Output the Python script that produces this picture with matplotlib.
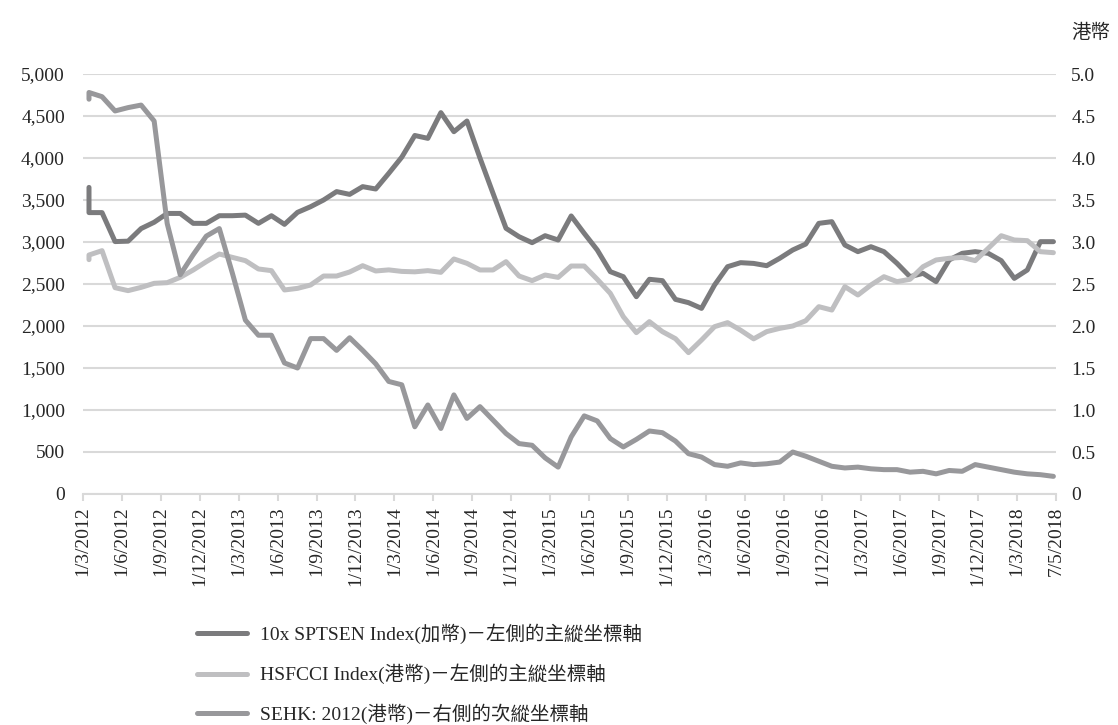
import numpy as np
import matplotlib
matplotlib.use("Agg")
import matplotlib.pyplot as plt
from matplotlib.ticker import FuncFormatter, MultipleLocator

plt.rcParams['font.family'] = ['Liberation Serif', 'Noto Sans CJK TC']

# x-axis labels (every third month, plus the last date)
tick_labels = [
    "1/3/2012", "1/6/2012", "1/9/2012", "1/12/2012",
    "1/3/2013", "1/6/2013", "1/9/2013", "1/12/2013",
    "1/3/2014", "1/6/2014", "1/9/2014", "1/12/2014",
    "1/3/2015", "1/6/2015", "1/9/2015", "1/12/2015",
    "1/3/2016", "1/6/2016", "1/9/2016", "1/12/2016",
    "1/3/2017", "1/6/2017", "1/9/2017", "1/12/2017",
    "1/3/2018", "7/5/2018",
]

# month slot of each observation (first slot holds two readings)
month_slot = [0] + list(range(75))

# 10x SPTSEN Index (CAD), left axis
sptsen = [
    3650, 3350, 3350, 3005, 3010, 3160, 3235, 3340, 3340, 3222, 3222,
    3313, 3313, 3320, 3222, 3313, 3210, 3353, 3420, 3500, 3600,
    3567, 3659, 3631, 3817, 4010, 4268, 4234, 4540, 4313, 4440,
    4000, 3580, 3163, 3063, 2992, 3075, 3024, 3310, 3103, 2905,
    2647, 2587, 2349, 2556, 2540, 2317, 2278, 2210, 2488, 2706,
    2754, 2745, 2718, 2806, 2905, 2976, 3222, 3242, 2964, 2885,
    2944, 2885, 2746, 2587, 2627, 2528, 2786, 2865, 2885, 2865,
    2778, 2567, 2667, 3004, 3004,
]

# HSFCCI Index (HKD), left axis
hsfcci = [
    2790, 2845, 2897, 2456, 2421, 2460, 2508, 2516, 2579, 2667, 2766,
    2857, 2817, 2778, 2679, 2659, 2429, 2448, 2488, 2595, 2595,
    2643, 2718, 2655, 2668, 2650, 2645, 2659, 2639, 2798, 2746,
    2667, 2667, 2766, 2595, 2540, 2607, 2579, 2714, 2714, 2556,
    2389, 2111, 1921, 2052, 1933, 1849, 1683, 1833, 1992, 2040,
    1950, 1847, 1933, 1972, 2000, 2063, 2230, 2190, 2468, 2369,
    2488, 2587, 2528, 2556, 2706, 2786, 2806, 2817, 2778, 2925,
    3075, 3024, 3016, 2885, 2873,
]

# SEHK: 2012 (HKD), right axis
sehk = [
    4.70, 4.78, 4.73, 4.56, 4.60, 4.63, 4.44, 3.22, 2.61, 2.85, 3.07,
    3.16, 2.63, 2.07, 1.89, 1.89, 1.56, 1.50, 1.85, 1.85, 1.71,
    1.86, 1.71, 1.55, 1.34, 1.30, 0.80, 1.06, 0.78, 1.18, 0.90,
    1.04, 0.88, 0.72, 0.60, 0.58, 0.43, 0.32, 0.68, 0.93, 0.87,
    0.66, 0.56, 0.65, 0.75, 0.73, 0.63, 0.48, 0.44, 0.35, 0.33,
    0.37, 0.35, 0.36, 0.38, 0.50, 0.45, 0.39, 0.33, 0.31, 0.32,
    0.30, 0.29, 0.29, 0.26, 0.27, 0.24, 0.28, 0.27, 0.35, 0.32,
    0.29, 0.26, 0.24, 0.23, 0.21,
]

series_labels = [
    "10x SPTSEN Index(加幣)－左側的主縱坐標軸",
    "HSFCCI Index(港幣)－左側的主縱坐標軸",
    "SEHK: 2012(港幣)－右側的次縱坐標軸",
]
colors = ["#7b7b7d", "#bfbfc1", "#98989b"]
grid_color = "#d9d9d9"
text_color = "#262626"
lw = 3.6

fig = plt.figure(figsize=(11.18, 7.25), dpi=100)
ax = fig.add_axes([83 / 1118, 1 - 494 / 725, (1056 - 83) / 1118, 420 / 725])
ax2 = ax.twinx()

l1, = ax.plot(month_slot, sptsen, color=colors[0], lw=lw, solid_joinstyle="round",
              solid_capstyle="round", zorder=3)
l2, = ax.plot(month_slot, hsfcci, color=colors[1], lw=lw, solid_joinstyle="round",
              solid_capstyle="round", zorder=4)
l3, = ax2.plot(month_slot, sehk, color=colors[2], lw=lw, solid_joinstyle="round",
               solid_capstyle="round", zorder=3)

# axis spans a little past the first and last month slots
x_lo, x_hi = -0.46, 74.2
ax.set_xlim(x_lo, x_hi)
ax.set_xticks(np.linspace(x_lo, x_hi, len(tick_labels)))
ax.set_xticklabels(tick_labels, rotation=90, fontsize=14, color=text_color)

ax.set_ylim(0, 5000)
ax.yaxis.set_major_locator(MultipleLocator(500))
ax.yaxis.set_major_formatter(FuncFormatter(lambda v, p: f"{v:,.0f}"))
ax2.set_ylim(0, 5.0)
ax2.yaxis.set_major_locator(MultipleLocator(0.5))
ax2.yaxis.set_major_formatter(FuncFormatter(lambda v, p: "0" if v == 0 else f"{v:.1f}"))

ax.grid(axis="y", color=grid_color, lw=1.5, zorder=0)
ax.set_axisbelow(True)
for a in (ax, ax2):
    for s in ("top", "left", "right"):
        a.spines[s].set_visible(False)
    a.spines["bottom"].set_color(grid_color)
    a.spines["bottom"].set_linewidth(1.5)
ax2.spines["bottom"].set_visible(False)

ax.tick_params(axis="x", length=5, width=1.5, color=grid_color, pad=4)
ax.tick_params(axis="y", length=0, labelsize=14, labelcolor=text_color, pad=13)
ax2.tick_params(axis="y", length=0, labelsize=14, labelcolor=text_color, pad=11)

fig.text(1071 / 1118, 1 - 32 / 725, "港幣", fontsize=14, color=text_color,
         family=["Noto Sans CJK TC"], ha="left", va="center")

fig.legend([l1, l2, l3], series_labels, loc="upper left",
           bbox_to_anchor=(189 / 1118, 1 - 616 / 725), frameon=False,
           fontsize=14, handlelength=2.6, handletextpad=0.65, labelspacing=1.0,
           borderaxespad=0.0, labelcolor=text_color)

fig.savefig("out.png", dpi=100)
